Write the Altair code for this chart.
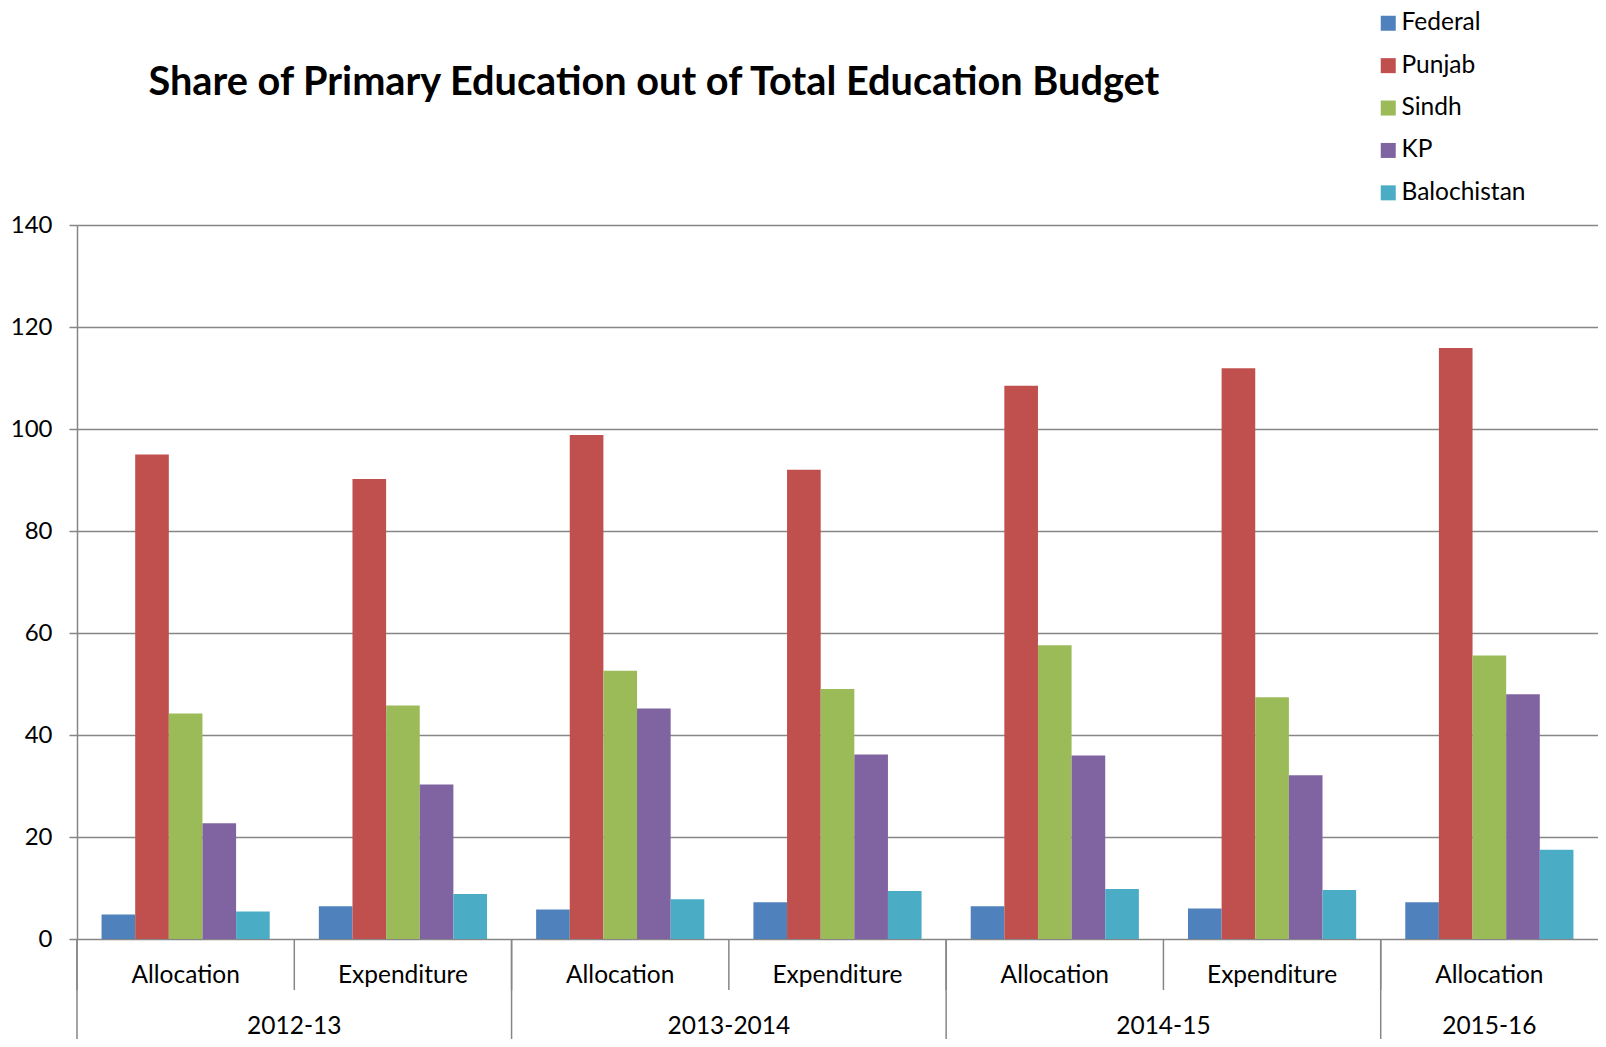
import altair as alt
import pandas as pd

# ---- data ----
years = ["2012-13", "2012-13", "2013-2014", "2013-2014", "2014-15", "2014-15", "2015-16"]
kinds = ["Allocation", "Expenditure", "Allocation", "Expenditure", "Allocation", "Expenditure", "Allocation"]
series_names = ["Federal", "Punjab", "Sindh", "KP", "Balochistan"]
federal = [4.8, 6.4, 5.8, 7.2, 6.4, 6.0, 7.2]
punjab = [95.0, 90.2, 98.8, 92.0, 108.5, 111.9, 115.9]
sindh = [44.2, 45.8, 52.6, 49.0, 57.6, 47.4, 55.6]
kp = [22.7, 30.3, 45.2, 36.2, 36.0, 32.1, 48.0]
balochistan = [5.4, 8.8, 7.8, 9.4, 9.8, 9.6, 17.5]
colors = ["#4F81BD", "#C0504D", "#9BBB59", "#8064A2", "#4BACC6"]
y_ticks = [0, 20, 40, 60, 80, 100, 120, 140]
title_text = ["Share of Primary Education out of Total Education Budget"]

FONT = "Lato"
GRAY = "#868686"

slots = [f"{y} {k}" for y, k in zip(years, kinds)]
rows = []
for name, vals in zip(series_names, [federal, punjab, sindh, kp, balochistan]):
    for s, y, k, v in zip(slots, years, kinds, vals):
        rows.append({"slot": s, "year": y, "kind": k, "series": name, "value": v})
df = pd.DataFrame(rows)

slot_df = pd.DataFrame({"slot": slots, "kind": kinds, "year": years})
year_counts = slot_df.groupby("year", sort=False)["slot"].count()
first_slots = slot_df.drop_duplicates("year", keep="first")
pair_years = [y for y in year_counts.index if year_counts[y] == 2]
single_years = [y for y in year_counts.index if year_counts[y] == 1]
pair_df = slot_df[slot_df["year"].isin(pair_years)].drop_duplicates("year", keep="last")
single_df = slot_df[slot_df["year"].isin(single_years)]
title_df = pd.DataFrame({"t": title_text})

H = 714
x_scale = alt.Scale(domain=slots, paddingInner=0, paddingOuter=0)

bars = alt.Chart(df).mark_bar().encode(
    x=alt.X("slot:N", scale=x_scale, sort=slots,
            axis=alt.Axis(labels=False, ticks=False, title=None, grid=False,
                          domainColor=GRAY, domainWidth=1.5)),
    xOffset=alt.XOffset("series:N", sort=series_names,
                        scale=alt.Scale(domain=series_names, paddingOuter=0.73, paddingInner=0)),
    y=alt.Y("value:Q", scale=alt.Scale(domain=[0, 140], nice=False),
            axis=alt.Axis(values=y_ticks, grid=True, gridColor=GRAY, gridWidth=1.5,
                          domainColor=GRAY, domainWidth=1.5, tickColor=GRAY, tickSize=8,
                          tickWidth=1.5, labelFontSize=24, labelFont=FONT, labelColor="black",
                          labelPadding=17, title=None)),
    color=alt.Color("series:N", sort=series_names,
                    scale=alt.Scale(domain=series_names, range=colors),
                    legend=alt.Legend(orient="none", legendX=1299, legendY=-214, title=None,
                                      symbolType="square", symbolSize=225, symbolStrokeWidth=0,
                                      labelFontSize=24.5, labelFont=FONT, labelColor="black",
                                      rowPadding=17.4, labelOffset=1, direction="vertical")),
)

inner_sep = alt.Chart(slot_df).mark_rule(color=GRAY, strokeWidth=1.5).encode(
    x=alt.X("slot:N", bandPosition=0, sort=slots, axis=None),
    y=alt.value(H), y2=alt.value(H + 51),
)
group_sep = alt.Chart(first_slots).mark_rule(color=GRAY, strokeWidth=1.5).encode(
    x=alt.X("slot:N", bandPosition=0, sort=slots, axis=None),
    y=alt.value(H), y2=alt.value(H + 105),
)
kind_labels = alt.Chart(slot_df).mark_text(font=FONT, fontSize=24.5, color="black",
                                           baseline="middle").encode(
    x=alt.X("slot:N", sort=slots, axis=None),
    y=alt.value(H + 37),
    text="kind:N",
)
year_pair_labels = alt.Chart(pair_df).mark_text(font=FONT, fontSize=24.5, color="black",
                                                baseline="middle").encode(
    x=alt.X("slot:N", bandPosition=0, sort=slots, axis=None),
    y=alt.value(H + 88),
    text="year:N",
)
year_single_labels = alt.Chart(single_df).mark_text(font=FONT, fontSize=24.5, color="black",
                                                    baseline="middle").encode(
    x=alt.X("slot:N", sort=slots, axis=None),
    y=alt.value(H + 88),
    text="year:N",
)
title_mark = alt.Chart(title_df).mark_text(font=FONT, fontSize=39.7, fontWeight="bold",
                                           color="black", align="left",
                                           baseline="middle").encode(
    x=alt.value(71.5), y=alt.value(-142), text="t:N",
)

chart = alt.layer(bars, inner_sep, group_sep, kind_labels, year_pair_labels,
                  year_single_labels, title_mark).properties(
    width=1521, height=H,
    autosize=alt.AutoSizeParams(type="none"),
    padding={"left": 69, "top": 217, "right": 0, "bottom": 100},
).configure_view(stroke=None).configure(background="white")

chart.save("out.html", embed_options={"renderer": "svg", "actions": False})
